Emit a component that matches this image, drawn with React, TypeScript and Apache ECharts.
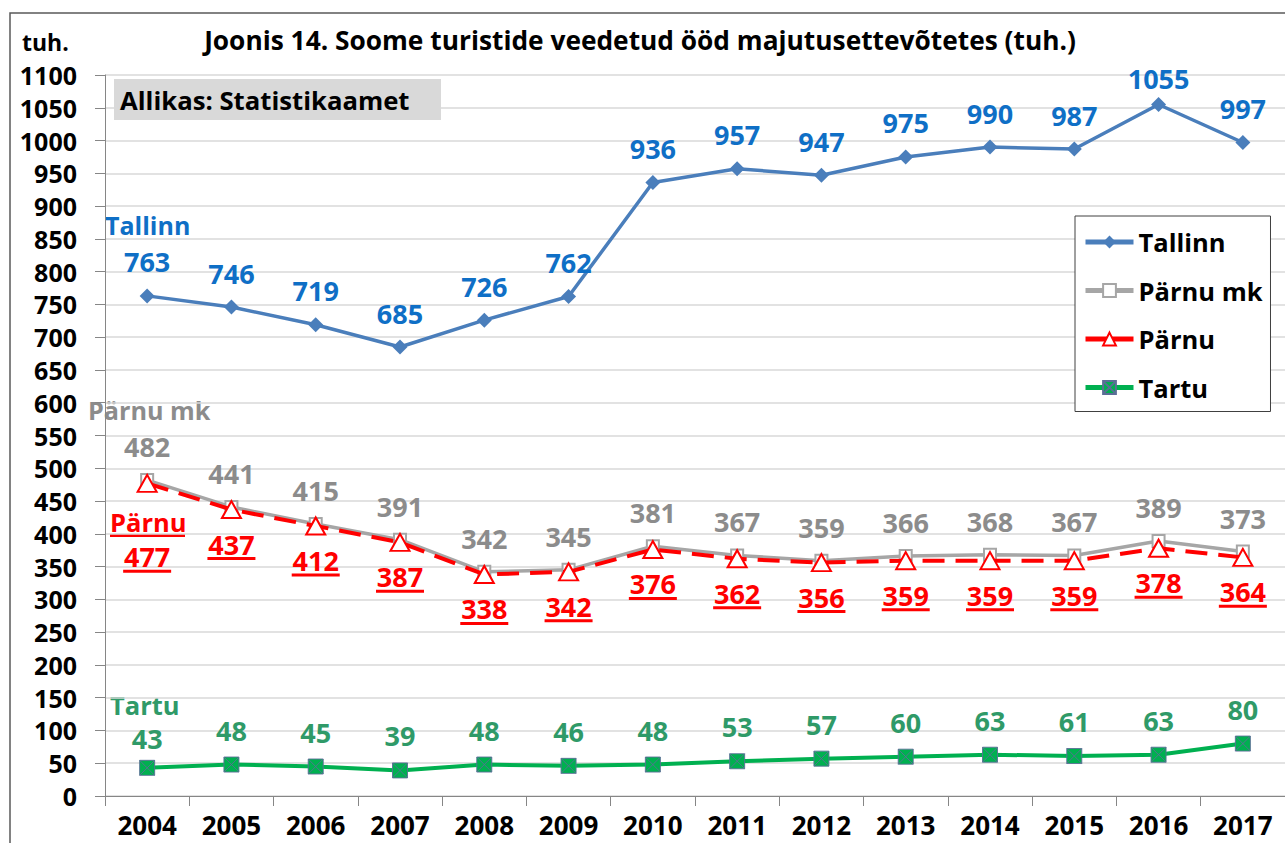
import React, { useEffect, useRef } from "react";
import * as echarts from "echarts";

const years = ["2004", "2005", "2006", "2007", "2008", "2009", "2010", "2011", "2012", "2013", "2014", "2015", "2016", "2017"];
const tallinn = [763, 746, 719, 685, 726, 762, 936, 957, 947, 975, 990, 987, 1055, 997];
const parnuMk = [482, 441, 415, 391, 342, 345, 381, 367, 359, 366, 368, 367, 389, 373];
const parnu = [477, 437, 412, 387, 338, 342, 376, 362, 356, 359, 359, 359, 378, 364];
const tartu = [43, 48, 45, 39, 48, 46, 48, 53, 57, 60, 63, 61, 63, 80];

const FONT = "'Open Sans', Lato, sans-serif";
const BLUE_LINE = "#4a7ebb";
const BLUE_LABEL = "#0f6fc6";
const GRAY_LINE = "#a6a6a6";
const GRAY_LABEL = "#8c8c8c";
const RED = "#ff0000";
const GREEN_LINE = "#00b050";
const GREEN_LABEL = "#2f9a68";
const BOX_X = "path://M0,0H10V10H0Z M0,0L10,10 M10,0L0,10";

export default function App() {
  const ref = useRef<HTMLDivElement>(null);
  useEffect(() => {
    if (!ref.current) return;
    const chart = echarts.init(ref.current, null, { renderer: "svg" });
    const lbl = (color: string) => ({
      show: true,
      position: "top",
      distance: 13,
      color,
      fontFamily: FONT,
      fontWeight: "bold",
      fontSize: 27,
    });
    const option: any = {
      animation: false,
      backgroundColor: "#ffffff",
      textStyle: { fontFamily: FONT },
      grid: { left: 105, right: -9, top: 75, bottom: 47, containLabel: false },
      legend: {
        orient: "vertical",
        left: 1075,
        top: 216,
        padding: [13, 8, 11, 8],
        itemGap: 22.5,
        itemWidth: 48,
        itemHeight: 16,
        backgroundColor: "#ffffff",
        borderColor: "#404040",
        borderWidth: 1,
        textStyle: { fontFamily: FONT, fontWeight: "bold", fontSize: 25.5, color: "#000" },
        data: [
          { name: "Tallinn", lineStyle: { width: 5 } },
          { name: "Pärnu mk", lineStyle: { width: 5 } },
          { name: "Pärnu", lineStyle: { width: 5, type: "solid" } },
          { name: "Tartu", lineStyle: { width: 5 } },
        ],
      },
      xAxis: {
        type: "category",
        data: years,
        boundaryGap: true,
        axisLine: { show: true, lineStyle: { color: "#868686", width: 1 } },
        axisTick: { show: true, length: 10, lineStyle: { color: "#868686" } },
        axisLabel: { fontFamily: FONT, fontWeight: "bold", fontSize: 26, color: "#000", margin: 16 },
        splitLine: { show: false },
      },
      yAxis: {
        type: "value",
        min: 0,
        max: 1100,
        interval: 50,
        axisLine: { show: true, lineStyle: { color: "#868686", width: 1 } },
        axisTick: { show: true, length: 10, lineStyle: { color: "#868686" } },
        axisLabel: { fontFamily: FONT, fontWeight: "bold", fontSize: 25, color: "#000", margin: 28, formatter: (v: number) => String(v) },
        splitLine: { show: true, lineStyle: { color: "#d9d9d9", width: 1.5 } },
      },
      graphic: [
        { type: "rect", shape: { x: 10, y: 13, width: 1300, height: 900 }, style: { fill: "none", stroke: "#595959", lineWidth: 1.5 }, silent: true, z: -10 },
        { type: "text", x: 640, y: 40, style: { text: "Joonis 14. Soome turistide veedetud ööd majutusettevõtetes (tuh.)", font: `bold 26.3px ${FONT}`, fill: "#000", textAlign: "center", textVerticalAlign: "middle" } },
        { type: "text", x: 22, y: 42, style: { text: "tuh.", font: `bold 23px ${FONT}`, fill: "#000", textAlign: "left", textVerticalAlign: "middle" } },
        { type: "rect", shape: { x: 114, y: 79, width: 327, height: 41 }, style: { fill: "#d9d9d9" }, z: 5 },
        { type: "text", x: 120, y: 100, z: 6, style: { text: "Allikas: Statistikaamet", font: `bold 25.7px ${FONT}`, fill: "#000", textAlign: "left", textVerticalAlign: "middle" } },
        { type: "text", x: 105, y: 225, style: { text: "Tallinn", font: `bold 25px ${FONT}`, fill: BLUE_LABEL, textAlign: "left", textVerticalAlign: "middle" } },
        { type: "text", x: 88, y: 410, style: { text: "Pärnu mk", font: `bold 25.2px ${FONT}`, fill: GRAY_LABEL, textAlign: "left", textVerticalAlign: "middle" } },
        { type: "text", x: 110, y: 522, style: { text: "Pärnu", font: `bold 25.5px ${FONT}`, fill: RED, textAlign: "left", textVerticalAlign: "middle" } },
        { type: "rect", shape: { x: 110, y: 534, width: 75, height: 3 }, style: { fill: RED } },
        { type: "text", x: 110, y: 705, style: { text: "Tartu", font: `bold 25.5px ${FONT}`, fill: GREEN_LABEL, textAlign: "left", textVerticalAlign: "middle" } },
      ],
      series: [
        {
          name: "Tallinn",
          type: "line",
          data: tallinn.map((v, i) => (i === 12 ? { value: v, label: { offset: [0, 8] } } : v)),
          symbol: "diamond",
          symbolSize: 15,
          lineStyle: { color: BLUE_LINE, width: 3.5 },
          itemStyle: { color: BLUE_LINE },
          label: lbl(BLUE_LABEL),
          z: 3,
        },
        {
          name: "Pärnu mk",
          type: "line",
          data: parnuMk,
          symbol: "emptyRect",
          symbolSize: 12,
          lineStyle: { color: GRAY_LINE, width: 3.5 },
          itemStyle: { color: GRAY_LINE, borderColor: GRAY_LINE, borderWidth: 1.2 },
          label: lbl(GRAY_LABEL),
          z: 4,
        },
        {
          name: "Pärnu",
          type: "line",
          data: parnu.map((v, i) => (i === 0 ? { value: v, label: { offset: [0, 39] } } : v)),
          symbol: "emptyTriangle",
          symbolSize: [19, 17],
          lineStyle: { color: RED, width: 4, type: [22, 11] },
          itemStyle: { color: RED, borderColor: RED, borderWidth: 1.2 },
          label: {
            show: true,
            position: "bottom",
            distance: 12,
            formatter: "{v|{c}}\n{u|}",
            rich: {
              v: { fontFamily: FONT, fontWeight: "bold", fontSize: 27, color: RED, lineHeight: 26, align: "center" },
              u: { width: 48, height: 3, lineHeight: 3, backgroundColor: RED, align: "center" },
            },
          },
          z: 5,
        },
        {
          name: "Tartu",
          type: "line",
          data: tartu.map((v, i) => (i === 0 ? { value: v, label: { offset: [0, 5] } } : v)),
          symbol: BOX_X,
          symbolSize: 15,
          lineStyle: { color: GREEN_LINE, width: 4 },
          itemStyle: { color: GREEN_LINE, borderColor: "#5b6e96", borderWidth: 0.9 },
          label: lbl(GREEN_LABEL),
          z: 3,
        },
      ],
    };
    chart.setOption(option);
    return () => chart.dispose();
  }, []);
  return <div ref={ref} style={{ position: "fixed", left: 0, top: 0, width: 1285, height: 843 }} />;
}
